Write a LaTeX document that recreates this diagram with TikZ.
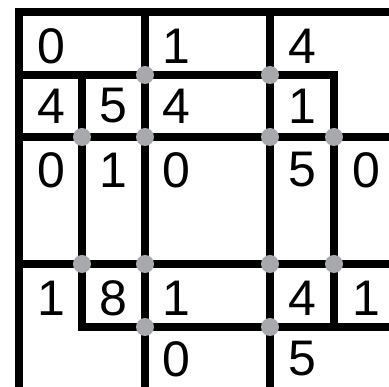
\documentclass[tikz,border=0pt]{standalone}
\usepackage{fontspec}
\setmainfont{Liberation Sans}
\definecolor{dotgray}{RGB}{167,169,172}
\begin{document}
\begin{tikzpicture}[x=1pt,y=-1pt,
  grid/.style={line width=7.8pt,black,line join=miter,line cap=rect},
  dot/.style={circle,fill=dotgray,inner sep=0pt,minimum size=18pt},
  num/.style={inner sep=0pt,font=\fontsize{50}{60}\selectfont}]
\useasboundingbox (0,0) rectangle (389,387);
% lines
\draw[grid] (389,12) -- (19,12) -- (19,390);
\draw[grid] (19,75) -- (334,75) -- (334,137);
\draw[grid] (19,137) -- (392,137);
\draw[grid] (19,264) -- (392,264);
\draw[grid] (82,75) -- (82,327) -- (392,327);
\draw[grid] (145,12) -- (145,390);
\draw[grid] (270,12) -- (270,390);
\draw[grid] (334,137) -- (334,327);
% dots
\node[dot] (d1) at (145,75) {};
\node[dot] (d2) at (270,75) {};
\node[dot] (d3) at (82,137) {};
\node[dot] (d4) at (145,137) {};
\node[dot] (d5) at (270,137) {};
\node[dot] (d6) at (334,137) {};
\node[dot] (d7) at (82,264) {};
\node[dot] (d8) at (145,264) {};
\node[dot] (d9) at (270,264) {};
\node[dot] (d10) at (334,264) {};
\node[dot] (d11) at (145,327) {};
\node[dot] (d12) at (270,327) {};
% numbers
\node[num] (a1) at (51,46) {0};
\node[num] (a2) at (176,46) {1};
\node[num] (a3) at (302,46) {4};
\node[num] (b1) at (51,106) {4};
\node[num] (b2) at (113,106) {5};
\node[num] (b3) at (176,106) {4};
\node[num] (b4) at (302,106) {1};
\node[num] (c1) at (51,170) {0};
\node[num] (c2) at (113,170) {1};
\node[num] (c3) at (176,170) {0};
\node[num] (c4) at (302,170) {5};
\node[num] (c5) at (366,170) {0};
\node[num] (e1) at (51,298) {1};
\node[num] (e2) at (113,298) {8};
\node[num] (e3) at (176,298) {1};
\node[num] (e4) at (302,298) {4};
\node[num] (e5) at (366,298) {1};
\node[num] (f1) at (176,359) {0};
\node[num] (f2) at (302,359) {5};
\end{tikzpicture}
\end{document}
